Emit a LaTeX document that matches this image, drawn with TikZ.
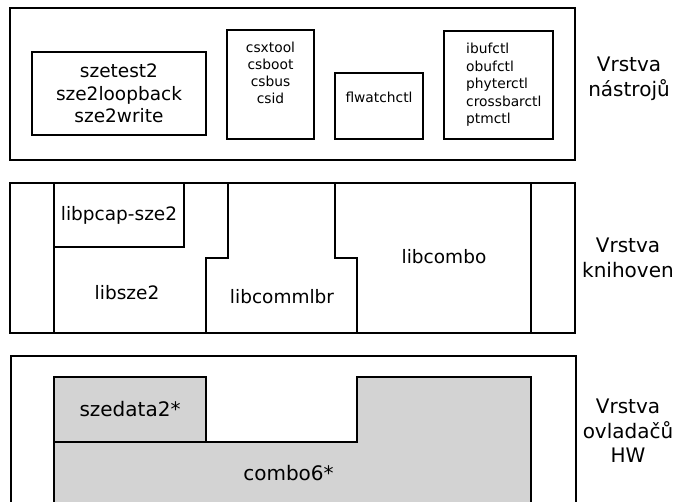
\documentclass[tikz,border=0pt]{standalone}
\usepackage{fontspec}
\setmainfont{DejaVu Sans}
\usetikzlibrary{calc,positioning}
\definecolor{LyLine}{HTML}{000000}
\definecolor{LyGray}{HTML}{D3D3D3}
\tikzset{
  lyBase/.style={
    inner sep=0pt,
    line width=1.6pt,
    draw=LyLine
  },
  lyFrame/.style={
    lyBase,
    rectangle
  },
  lyBig/.style={
    font=\fontsize{18.5pt}{22.3pt}\selectfont,
    align=center,
    inner sep=0pt
  },
  lyHWText/.style={
    font=\fontsize{20pt}{24pt}\selectfont,
    align=center,
    inner sep=0pt
  },
  lySmall/.style={
    font=\fontsize{13.8pt}{16.8pt}\selectfont,
    inner sep=0pt
  },
  lyLabel/.style={
    font=\fontsize{20pt}{24.5pt}\selectfont,
    align=center,
    inner sep=0pt
  },
  lyLine/.style={
    line width=1.6pt,
    draw=LyLine
  },
  lyHW/.style={
    lyLine,
    fill=LyGray
  }
}
\begin{document}
\begin{tikzpicture}[x=1pt, y=-1pt]
        \useasboundingbox (0,0) rectangle (679,501);
        \clip (0,0) rectangle (679,501);

        % vrstva nastroju
        \node (f1) [lyFrame, minimum width=565pt, minimum height=152pt] at (292.5,84) {};
        \node (t1) [lyFrame, lyBig, minimum width=174pt, minimum height=83pt] at (119,93.5) {szetest2\\sze2loopback\\sze2write};
        \node (t2) [lyFrame, minimum width=87pt, minimum height=109pt] at (270.5,84.5) {};
        \node (t2txt) [lySmall, align=center, below=13pt of t2.north] {csxtool\\csboot\\csbus\\csid};
        \node (t3) [lyFrame, minimum width=88pt, minimum height=66pt] at (379,106) {};
        \node (t3txt) [lySmall] at (379,97) {flwatchctl};
        \node (t4) [lyFrame, minimum width=109pt, minimum height=108pt] at (498.5,85) {};
        \node (t4txt) [lySmall, align=left, anchor=west, font=\fontsize{13.8pt}{17.5pt}\selectfont] at (466,85) {ibufctl\\obufctl\\phyterctl\\crossbarctl\\ptmctl};
        \node (v1) [lyLabel] at (629,79) {Vrstva\\nástrojů};

        % vrstva knihoven
        \node (f2) [lyFrame, minimum width=565pt, minimum height=150pt] at (292.5,258) {};
        \draw [lyLine] (54,183) -- (54,333);
        \draw [lyLine] (531,183) -- (531,333);
        \node (l1) [lyFrame, lyBig, minimum width=130pt, minimum height=64pt] at (119,215) {libpcap-sze2};
        \draw [lyLine] (228,183) -- (228,258) -- (206,258) -- (206,333);
        \draw [lyLine] (335,183) -- (335,258) -- (357,258) -- (357,333);
        \node (l2) [lyBig] at (127,293) {libsze2};
        \node (l3) [lyBig] at (282,297) {libcommlbr};
        \node (l4) [lyBig] at (444,257) {libcombo};
        \node (v2) [lyLabel] at (628,258) {Vrstva\\knihoven};

        % vrstva ovladacu HW
        \node (f3) [lyFrame, anchor=north west, minimum width=565pt, minimum height=180pt] at (10,355) {};
        \draw [lyHW] (54,442) -- (357,442) -- (357,377) -- (531,377) -- (531,540) -- (54,540) -- cycle;
        \node (h1) [lyFrame, lyHWText, fill=LyGray, minimum width=152pt, minimum height=65pt] at (130,409.5) {szedata2*};
        \node (h2) [lyHWText] at (288.5,473) {combo6*};
        \node (v3) [lyLabel] at (628,431) {Vrstva\\ovladačů\\HW};
      \end{tikzpicture}
\end{document}
